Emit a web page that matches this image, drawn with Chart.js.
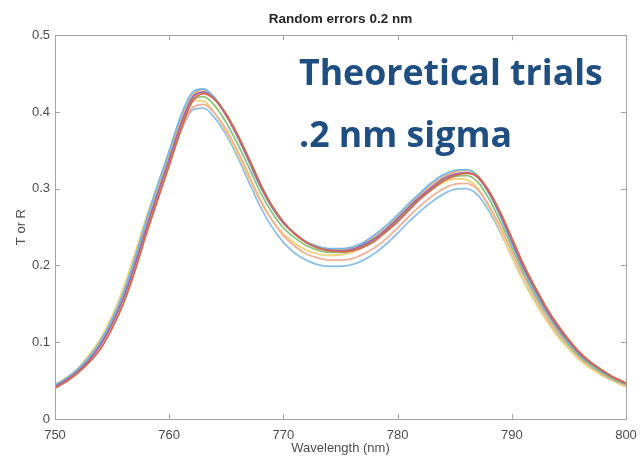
<!DOCTYPE html>
<html>
<head>
<meta charset="utf-8">
<script src="https://cdn.jsdelivr.net/npm/chart.js@4.4.1/dist/chart.umd.min.js"></script>
<style>
  html, body { margin: 0; padding: 0; background: #fff; }
  canvas { display: block; }
</style>
</head>
<body>
<canvas id="spectrum" width="642" height="457"></canvas>
<script>
// --- data ---
const wavelength = [750, 751, 752, 753, 754, 755, 756, 757, 758, 759,
  760, 761, 762, 763, 764, 765, 766, 767, 768, 769,
  770, 771, 772, 773, 774, 775, 776, 777, 778, 779,
  780, 781, 782, 783, 784, 785, 786, 787, 788, 789,
  790, 791, 792, 793, 794, 795, 796, 797, 798, 799, 800];

const trialRed = [0.040, 0.049, 0.060, 0.074, 0.092, 0.118, 0.151, 0.193, 0.241, 0.286,
  0.330, 0.376, 0.413, 0.424, 0.416, 0.397, 0.370, 0.339, 0.306, 0.278,
  0.257, 0.241, 0.230, 0.223, 0.219, 0.218, 0.219, 0.224, 0.232, 0.244,
  0.257, 0.272, 0.287, 0.299, 0.310, 0.317, 0.320, 0.316, 0.297, 0.269,
  0.236, 0.202, 0.173, 0.146, 0.123, 0.103, 0.086, 0.073, 0.063, 0.054, 0.047];
const trialPurple = [0.042, 0.051, 0.062, 0.077, 0.097, 0.124, 0.158, 0.201, 0.249, 0.294,
  0.338, 0.383, 0.418, 0.426, 0.416, 0.395, 0.368, 0.336, 0.303, 0.276,
  0.255, 0.241, 0.230, 0.223, 0.220, 0.219, 0.221, 0.227, 0.235, 0.247,
  0.261, 0.276, 0.290, 0.302, 0.313, 0.319, 0.321, 0.315, 0.295, 0.266,
  0.232, 0.198, 0.170, 0.143, 0.120, 0.101, 0.084, 0.072, 0.062, 0.053, 0.046];
const trialSky = [0.044, 0.053, 0.065, 0.081, 0.102, 0.130, 0.165, 0.210, 0.259, 0.305,
  0.349, 0.394, 0.425, 0.430, 0.418, 0.396, 0.367, 0.335, 0.302, 0.276,
  0.256, 0.242, 0.231, 0.225, 0.222, 0.222, 0.224, 0.230, 0.240, 0.252,
  0.266, 0.281, 0.295, 0.308, 0.318, 0.324, 0.325, 0.317, 0.294, 0.264,
  0.229, 0.196, 0.167, 0.141, 0.119, 0.099, 0.083, 0.071, 0.061, 0.053, 0.046];
const trialOrange = [0.043, 0.052, 0.063, 0.079, 0.098, 0.126, 0.161, 0.204, 0.253, 0.298,
  0.343, 0.388, 0.421, 0.429, 0.418, 0.396, 0.369, 0.337, 0.304, 0.277,
  0.256, 0.242, 0.231, 0.225, 0.221, 0.221, 0.223, 0.228, 0.237, 0.249,
  0.263, 0.278, 0.293, 0.305, 0.315, 0.322, 0.324, 0.317, 0.296, 0.266,
  0.232, 0.198, 0.169, 0.143, 0.120, 0.101, 0.084, 0.072, 0.062, 0.053, 0.046];
const trialGreen = [0.043, 0.051, 0.063, 0.079, 0.099, 0.127, 0.161, 0.205, 0.252, 0.297,
  0.341, 0.384, 0.415, 0.420, 0.408, 0.386, 0.358, 0.327, 0.295, 0.269,
  0.249, 0.236, 0.226, 0.220, 0.217, 0.217, 0.219, 0.225, 0.234, 0.246,
  0.259, 0.274, 0.288, 0.300, 0.310, 0.316, 0.317, 0.309, 0.287, 0.257,
  0.224, 0.191, 0.163, 0.138, 0.116, 0.097, 0.081, 0.069, 0.059, 0.051, 0.045];
const trialSalmon = [0.042, 0.050, 0.062, 0.077, 0.097, 0.124, 0.158, 0.200, 0.247, 0.290,
  0.333, 0.375, 0.405, 0.410, 0.398, 0.377, 0.349, 0.317, 0.285, 0.259,
  0.239, 0.225, 0.215, 0.210, 0.207, 0.207, 0.209, 0.215, 0.223, 0.235,
  0.249, 0.264, 0.278, 0.290, 0.300, 0.306, 0.307, 0.299, 0.278, 0.250,
  0.218, 0.187, 0.160, 0.134, 0.113, 0.095, 0.079, 0.068, 0.058, 0.050, 0.044];
const trialYellow = [0.045, 0.054, 0.066, 0.084, 0.105, 0.134, 0.171, 0.216, 0.263, 0.306,
  0.349, 0.391, 0.415, 0.414, 0.398, 0.374, 0.345, 0.313, 0.283, 0.259,
  0.241, 0.229, 0.220, 0.215, 0.213, 0.214, 0.217, 0.224, 0.234, 0.246,
  0.260, 0.275, 0.288, 0.300, 0.308, 0.313, 0.312, 0.301, 0.276, 0.245,
  0.211, 0.180, 0.153, 0.129, 0.108, 0.091, 0.076, 0.065, 0.056, 0.049, 0.042];
const trialBlue = [0.042, 0.051, 0.062, 0.078, 0.098, 0.125, 0.160, 0.202, 0.248, 0.291,
  0.333, 0.374, 0.402, 0.405, 0.392, 0.370, 0.341, 0.308, 0.276, 0.250,
  0.230, 0.216, 0.207, 0.201, 0.199, 0.199, 0.201, 0.207, 0.216, 0.228,
  0.242, 0.257, 0.271, 0.283, 0.293, 0.299, 0.300, 0.292, 0.271, 0.243,
  0.212, 0.181, 0.155, 0.130, 0.110, 0.092, 0.077, 0.066, 0.056, 0.049, 0.042];

const xTicks = [750, 760, 770, 780, 790, 800];
const yTicks = [0, 0.1, 0.2, 0.3, 0.4, 0.5];
const yTickLabels = ['0', '0.1', '0.2', '0.3', '0.4', '0.5'];
const noteLines = ['Theoretical trials', '.2 nm sigma'];

// first entry ends up drawn on top
const trials = [
  { values: trialRed, color: '#d86849' },
  { values: trialPurple, color: '#9a6cae' },
  { values: trialSky, color: '#74b8e6' },
  { values: trialOrange, color: '#f3ad72' },
  { values: trialGreen, color: '#8cc57a' },
  { values: trialSalmon, color: '#f4ae96' },
  { values: trialYellow, color: '#f4d27a' },
  { values: trialBlue, color: '#8fc0ea' }
];

const axisFont = 'Liberation Sans, Arial, sans-serif';
const textGray = '#4d4d4d';
const boxGray = '#a6a6a6';

// matlab-style box with inward ticks on all four sides
const boxPlugin = {
  id: 'box',
  afterDatasetsDraw(chart) {
    const { ctx, chartArea: a, scales } = chart;
    const tl = 5;
    ctx.save();
    ctx.strokeStyle = boxGray;
    ctx.lineWidth = 1;
    ctx.strokeRect(Math.round(a.left) + 0.5, Math.round(a.top) + 0.5,
      Math.round(a.right - a.left), Math.round(a.bottom - a.top));
    ctx.beginPath();
    xTicks.forEach(v => {
      const x = Math.round(scales.x.getPixelForValue(v)) + 0.5;
      ctx.moveTo(x, a.bottom); ctx.lineTo(x, a.bottom - tl);
      ctx.moveTo(x, a.top); ctx.lineTo(x, a.top + tl);
    });
    yTicks.forEach(v => {
      const y = Math.round(scales.y.getPixelForValue(v)) + 0.5;
      ctx.moveTo(a.left, y); ctx.lineTo(a.left + tl, y);
      ctx.moveTo(a.right, y); ctx.lineTo(a.right - tl, y);
    });
    ctx.stroke();
    ctx.restore();
  }
};

// the two-line note in the upper right
const notePlugin = {
  id: 'note',
  afterDraw(chart) {
    const ctx = chart.ctx;
    ctx.save();
    ctx.font = '700 34px "Open Sans", "Noto Sans", sans-serif';
    const w = ctx.measureText(noteLines[0]).width;
    const size = 34 * 304 / w;
    ctx.font = '700 ' + size.toFixed(1) + 'px "Open Sans", "Noto Sans", sans-serif';
    ctx.fillStyle = '#1f4e82';
    ctx.textBaseline = 'alphabetic';
    ctx.textAlign = 'left';
    ctx.fillText(noteLines[0], 299, 85);
    ctx.fillText(noteLines[1], 299, 147);
    ctx.restore();
  }
};

new Chart(document.getElementById('spectrum'), {
  type: 'line',
  data: {
    datasets: trials.map((t, i) => ({
      label: 'trial ' + (i + 1),
      data: wavelength.map((w, k) => ({ x: w, y: t.values[k] })),
      borderColor: t.color,
      borderWidth: 1.8,
      pointRadius: 0,
      cubicInterpolationMode: 'monotone',
      fill: false
    }))
  },
  options: {
    responsive: false,
    animation: false,
    layout: { padding: { left: 0, right: 16, top: 0, bottom: 0 } },
    plugins: {
      legend: { display: false },
      tooltip: { enabled: false },
      title: {
        display: true,
        fullSize: false,
        text: 'Random errors 0.2 nm',
        color: '#262626',
        font: { family: axisFont, size: 13.5, weight: 'bold' },
        padding: { top: 11, bottom: 8 }
      }
    },
    scales: {
      x: {
        type: 'linear',
        min: 750,
        max: 800,
        afterBuildTicks: s => { s.ticks = xTicks.map(v => ({ value: v })); },
        afterFit: s => { s.height = 38; s.paddingLeft = 0; s.paddingRight = 0; },
        grid: { display: false, drawTicks: false },
        border: { display: false },
        ticks: { color: textGray, font: { family: axisFont, size: 13 }, padding: 9, maxRotation: 0 },
        title: {
          display: true,
          text: 'Wavelength (nm)',
          color: textGray,
          font: { family: axisFont, size: 13 },
          padding: { top: 0, bottom: 1 }
        }
      },
      y: {
        min: 0,
        max: 0.5,
        afterBuildTicks: s => { s.ticks = yTicks.map(v => ({ value: v })); },
        afterFit: s => { s.width = 55; },
        grid: { display: false, drawTicks: false },
        border: { display: false },
        ticks: {
          color: textGray,
          font: { family: axisFont, size: 13 },
          padding: 5,
          callback: (v, i) => yTickLabels[i]
        },
        title: {
          display: true,
          text: 'T or R',
          color: textGray,
          font: { family: axisFont, size: 13 },
          padding: { top: 14, bottom: 0 }
        }
      }
    }
  },
  plugins: [boxPlugin, notePlugin]
});
</script>
</body>
</html>
